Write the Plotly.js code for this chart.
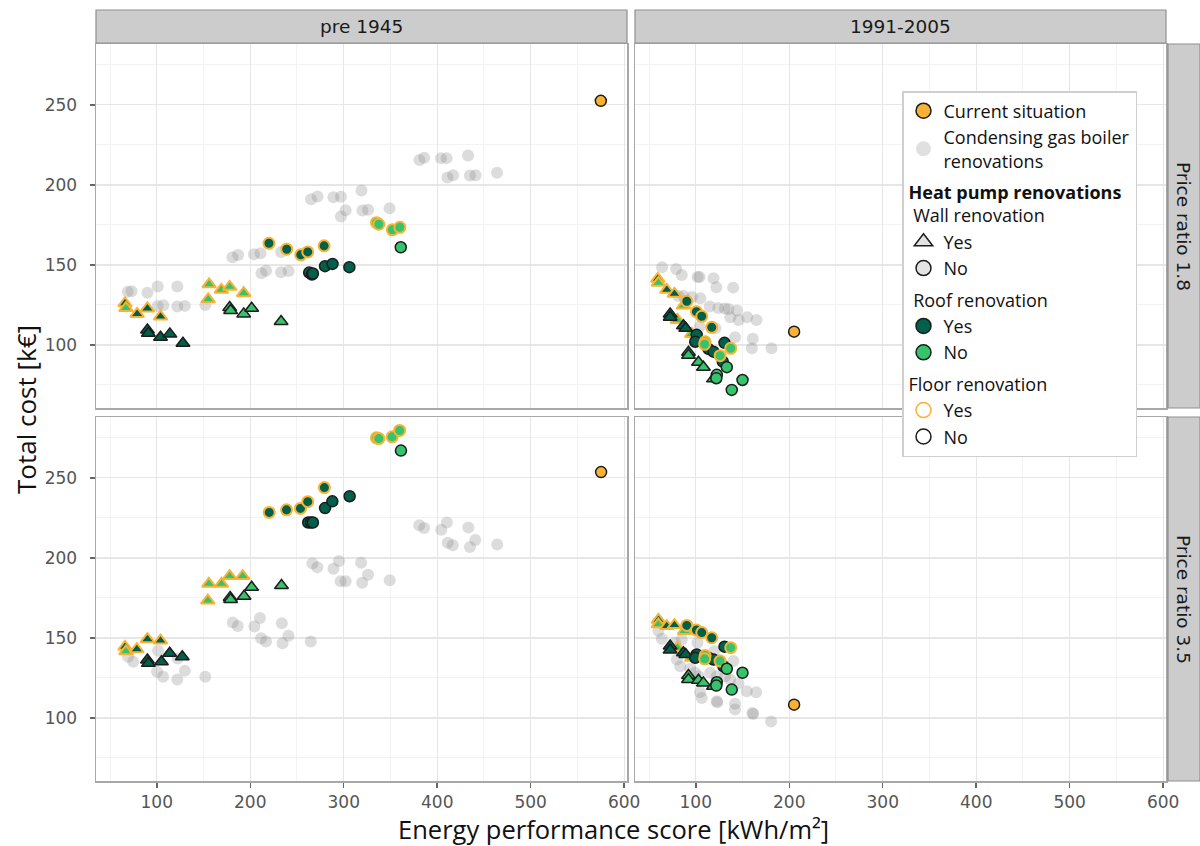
<!DOCTYPE html>
<html><head><meta charset="utf-8">
<script src="https://cdn.plot.ly/plotly-3.0.1.min.js"></script>
<style>html,body{margin:0;padding:0;background:#fff}#chart{width:1200px;height:846px}</style>
</head><body><div id="chart"></div>
<script>
// ---------- labels ----------
const buildingPeriods = ['pre 1945', '1991-2005'];
const priceRatios = ['Price ratio 1.8', 'Price ratio 3.5'];
const xTicks = [100, 200, 300, 400, 500, 600];
const yTicks = [100, 150, 200, 250];
const xTitle = 'Energy performance score [kWh/m²]';
const yTitle = 'Total cost [k€]';

// ---------- pre 1945, price ratio 1.8 ----------
const pre1945_r18_cur = [575, 252.5];
const pre1945_r18_gas_x = [69,73,90,101,101,107,122,122,130,152,181,187,204,211,212,217,233,241,233,265,272,289,297,319,297,302,320,326,349,381,386,404,410,433,411,417,435,441,464];
const pre1945_r18_gas_y = [133.3,133.5,132.6,136.5,124.4,124.8,136.5,124,124.4,125,154.8,156.2,156.7,157.3,144.8,146.4,145.4,146.2,158,191,192.7,192.3,192.6,196.5,180.2,184.2,184,184.4,185.4,215.6,216.9,216.7,216.7,218.3,204.6,206,205.9,206,207.5];
const pre1945_r18_hp_x = [66,67,79,90,104,90,91,104,114,128,156,155,169,178,193,178,179,193,201.5,233,220,239,254,261.5,279,263,266,267,280,288,306,335,337.5,352,360,361];
const pre1945_r18_hp_y = [126,123,119.4,122.8,117.7,109.4,107.3,104.8,106.9,101,137.9,128.5,134.4,136.3,132.3,123.4,121.5,119.4,122.9,114.6,163.5,159.8,156.3,158.1,161.9,145.2,144,144.6,149.2,150.6,148.6,176.4,175.4,171.9,173.5,161];
const pre1945_r18_hp_wall = ['Y','Y','Y','Y','Y','Y','Y','Y','Y','Y','Y','Y','Y','Y','Y','Y','Y','Y','Y','Y','N','N','N','N','N','N','N','N','N','N','N','N','N','N','N','N'];
const pre1945_r18_hp_roof = ['Y','N','Y','Y','Y','Y','Y','Y','Y','Y','N','N','N','N','N','N','N','N','N','N','Y','Y','Y','Y','Y','Y','Y','Y','Y','Y','Y','N','N','N','N','N'];
const pre1945_r18_hp_floor = ['Y','Y','Y','Y','Y','N','N','N','N','N','Y','Y','Y','Y','Y','N','N','N','N','N','Y','Y','Y','Y','Y','N','N','N','N','N','N','Y','Y','Y','Y','N'];

// ---------- 1991-2005, price ratio 1.8 ----------
const p1991_r18_cur = [205.2, 108.3];
const p1991_r18_gas_x = [64,79,85,102,104,119,122,140,81.5,87,96,105,115,124,131,135,144,137,146,155,165,104,121,142,161,160,181];
const p1991_r18_gas_y = [148.5,147.5,143.7,142.5,142.5,141.7,136,135.8,130.5,130.5,130,129.2,124,123,122.8,122.5,121.5,117.3,115.6,117.3,115.6,111.4,110.4,104.8,103.8,97.9,97.9];
const p1991_r18_hp_x = [59.4,60,69,77.2,86.8,80.4,95.7,72.6,72.6,86.8,89.3,92.2,92.2,102.9,108.2,118.9,90.4,100.7,106.4,117.1,101,99.4,113.5,118.9,128.9,130.7,110,109.5,126,137.4,133.2,122.5,122,150,138.5];
const p1991_r18_hp_y = [141.3,138.8,134.4,131.9,124.6,115.6,106.9,119.4,117.3,112,110.4,95.4,93.5,89.2,86.1,78.8,127.3,120.8,117.9,111,106.3,102,97.5,95.8,89.6,101.3,102,100.4,93.3,97.9,86.1,81.3,79.2,78.1,71.9];
const p1991_r18_hp_wall = ['Y','Y','Y','Y','Y','Y','Y','Y','Y','Y','Y','Y','Y','Y','Y','Y','N','N','N','N','N','N','N','N','N','N','N','N','N','N','N','N','N','N','N'];
const p1991_r18_hp_roof = ['Y','N','Y','Y','N','N','N','Y','Y','Y','Y','N','N','N','N','N','Y','Y','Y','Y','Y','Y','Y','Y','Y','Y','N','N','N','N','N','N','N','N','N'];
const p1991_r18_hp_floor = ['Y','Y','Y','Y','Y','Y','Y','N','N','N','N','N','N','N','N','N','Y','Y','Y','Y','N','N','N','N','N','N','Y','Y','Y','Y','N','N','N','N','N'];

// ---------- pre 1945, price ratio 3.5 ----------
const pre1945_r35_cur = [575.3, 253.6];
const pre1945_r35_gas_x = [69.4,74.8,101.4,100.3,106.7,122,130.1,122.4,151.9,181.3,186.6,204.4,210.4,211.5,216.8,233.8,240.9,234.5,264.7,266.5,271.8,289,295,296.7,302,318.6,319.7,326,349.2,380.8,386,404.3,410.3,433.3,411.3,416.6,435,440.7,464.2];
const pre1945_r35_gas_y = [138.2,135.1,142,128.8,125.7,124,129.4,137.2,125.7,159.6,157.5,157.1,162.4,149.8,147.7,159.2,151.3,146.7,147.7,196.5,194.2,193.2,198,185.4,185.4,197,184.4,189.4,186,220.4,218.6,217.5,222.1,219,209.5,207.9,206.8,211.2,208.3];
const pre1945_r35_hp_x = [66,67,78.7,90,104,90,91,105,113.8,127.3,155.7,154.6,169.2,178,191.9,178.5,179,193.4,201.5,233.4,220.3,238.8,253.7,261.5,279.3,262,265,267,280,287.8,306.3,335,337.5,351.8,359.8,361.2];
const pre1945_r35_hp_y = [144.4,141.6,142.9,149.2,148.3,136.2,134.1,135.1,140.4,138.2,183.8,173.3,183.8,188.6,188.6,175.3,174,176,181.6,182.7,228.4,230,230.9,235.1,243.9,222.1,222.1,222.1,231.1,235.3,238.5,275,274.5,275.6,279.6,267];
const pre1945_r35_hp_wall = pre1945_r18_hp_wall.slice();
const pre1945_r35_hp_roof = pre1945_r18_hp_roof.slice();
const pre1945_r35_hp_floor = pre1945_r18_hp_floor.slice();

// ---------- 1991-2005, price ratio 3.5 ----------
const p1991_r35_cur = [205.2, 108.3];
const p1991_r35_gas_x = [60.1,63.7,78,85,79.8,83.4,101.8,94,99.4,103,120,140.3,115.4,122.5,131.4,136.8,145.7,154.6,164.6,104.7,106.4,122.5,123,142,142,160.6,161.5,180.6];
const p1991_r35_gas_y = [154.3,149.5,147,149,136.5,132.3,147,130.7,128.2,126,141.7,135.5,128.2,126,126,124,121.5,116.7,116,116,112.5,110.4,109.8,108.8,105.3,103.1,102.5,97.8];
const p1991_r35_hp_x = [60.1,60,69,77.2,88,80.4,95.7,72.6,72.6,86.8,89.3,92.2,92.2,102.9,108.2,118.9,90.4,100.7,106.4,117.1,130.7,101,99.4,113.5,118.9,129.6,137.4,110,109.5,126,133.2,150,122.5,122,138.5];
const p1991_r35_hp_y = [161.2,158.5,157.4,158,154.3,143.9,137.6,144.9,142.4,140.7,139.7,126.5,124,123.5,121.9,119.8,157.8,154.9,153.3,150.1,144.5,139.7,137.6,137.6,136.5,132.3,143.9,139,136.9,135.5,130.7,128.2,122.3,120.2,117.7];
const p1991_r35_hp_wall = p1991_r18_hp_wall.slice();
const p1991_r35_hp_roof = p1991_r18_hp_roof.slice();
const p1991_r35_hp_floor = p1991_r18_hp_floor.slice();

// ---------- styles ----------
const ORANGE = '#F9B233';
const DARKGREEN = '#00604A';
const LIGHTGREEN = '#35C36C';
const OUTLINE = '#1c1c1c';
const GASCOLOR = 'rgba(140,140,140,0.30)';

const W = 1200, H = 846;
const px = v => v / W;
const py = v => 1 - v / H;
const colX = [[96, 627], [635, 1166]];
const rowY = [[44, 408], [417, 781]];

const panels = [
  {ax: '', col: 0, row: 0, cur: pre1945_r18_cur, gx: pre1945_r18_gas_x, gy: pre1945_r18_gas_y, hx: pre1945_r18_hp_x, hy: pre1945_r18_hp_y, w: pre1945_r18_hp_wall, r: pre1945_r18_hp_roof, f: pre1945_r18_hp_floor},
  {ax: '2', col: 1, row: 0, cur: p1991_r18_cur, gx: p1991_r18_gas_x, gy: p1991_r18_gas_y, hx: p1991_r18_hp_x, hy: p1991_r18_hp_y, w: p1991_r18_hp_wall, r: p1991_r18_hp_roof, f: p1991_r18_hp_floor},
  {ax: '3', col: 0, row: 1, cur: pre1945_r35_cur, gx: pre1945_r35_gas_x, gy: pre1945_r35_gas_y, hx: pre1945_r35_hp_x, hy: pre1945_r35_hp_y, w: pre1945_r35_hp_wall, r: pre1945_r35_hp_roof, f: pre1945_r35_hp_floor},
  {ax: '4', col: 1, row: 1, cur: p1991_r35_cur, gx: p1991_r35_gas_x, gy: p1991_r35_gas_y, hx: p1991_r35_hp_x, hy: p1991_r35_hp_y, w: p1991_r35_hp_wall, r: p1991_r35_hp_roof, f: p1991_r35_hp_floor}
];

const traces = [];
panels.forEach(p => {
  const xa = 'x' + p.ax, ya = 'y' + p.ax;
  traces.push({type: 'scatter', mode: 'markers', x: p.gx, y: p.gy, xaxis: xa, yaxis: ya, showlegend: false, hoverinfo: 'skip',
    marker: {size: 12, opacity: 1, color: GASCOLOR, line: {width: 0}}});
  traces.push({type: 'scatter', mode: 'markers', x: p.hx, y: p.hy, xaxis: xa, yaxis: ya, showlegend: false, hoverinfo: 'skip',
    marker: {
      opacity: 1,
      symbol: p.w.map(v => v === 'Y' ? 'triangle-up' : 'circle'),
      size: p.w.map(v => v === 'Y' ? 12 : 11),
      color: p.r.map(v => v === 'Y' ? DARKGREEN : LIGHTGREEN),
      line: {color: p.f.map(v => v === 'Y' ? ORANGE : OUTLINE), width: p.f.map(v => v === 'Y' ? 2 : 1.5)}
    }});
  traces.push({type: 'scatter', mode: 'markers', x: [p.cur[0]], y: [p.cur[1]], xaxis: xa, yaxis: ya, showlegend: false, hoverinfo: 'skip',
    marker: {size: 11, opacity: 1, color: ORANGE, line: {color: OUTLINE, width: 1.5}}});
});

// legend entries (no data, only legend)
const LEGF = {family: 'Open Sans, sans-serif', size: 18, color: '#111'};
function leg(name, group, marker, title) {
  const t = {type: 'scatter', mode: 'markers', x: [null], y: [null], name: name, legendgroup: group, showlegend: true, marker: marker};
  if (title) t.legendgrouptitle = {text: title, font: LEGF};
  traces.push(t);
}
leg('Current situation', 'a', {size: 15, color: ORANGE, line: {color: OUTLINE, width: 1.5}});
leg('Condensing gas boiler<br>renovations', 'a', {size: 15, color: '#e0e0e0', line: {width: 0}});
leg('Yes', 'wall', {symbol: 'triangle-up', size: 16, color: '#e3e3e3', line: {color: OUTLINE, width: 1.5}}, '<b>Heat pump renovations</b><br> Wall renovation');
leg('No', 'wall', {size: 15, color: '#e3e3e3', line: {color: OUTLINE, width: 1.5}});
leg('Yes', 'roof', {size: 15, color: DARKGREEN, line: {color: OUTLINE, width: 1.5}}, ' Roof renovation');
leg('No', 'roof', {size: 15, color: LIGHTGREEN, line: {color: OUTLINE, width: 1.5}});
leg('Yes', 'floor', {size: 15, color: '#ffffff', line: {color: ORANGE, width: 1.5}}, 'Floor renovation');
leg('No', 'floor', {size: 15, color: '#ffffff', line: {color: OUTLINE, width: 1.5}});

const TICKF = {family: 'DejaVu Sans, sans-serif', size: 17, color: '#555'};
function xAxis(col, row, anchor) {
  const bottom = row === 1;
  return {domain: [px(colX[col][0]), px(colX[col][1])], anchor: anchor, range: [35, 603],
    tickmode: 'array', tickvals: xTicks, showticklabels: bottom, ticks: bottom ? 'outside' : '', ticklen: 5, tickwidth: 1.5, tickcolor: '#666',
    tickfont: TICKF, showgrid: true, gridcolor: '#e6e6e6', gridwidth: 1.3,
    minor: {tick0: 0, dtick: 50, showgrid: true, gridcolor: '#f3f3f3', gridwidth: 1},
    showline: true, linecolor: '#a8a8a8', linewidth: 1.5, mirror: true, zeroline: false};
}
function yAxis(col, row, anchor) {
  const left = col === 0;
  return {domain: [py(rowY[row][1]), py(rowY[row][0])], anchor: anchor, range: [60.6, 288],
    tickmode: 'array', tickvals: yTicks, showticklabels: left, ticks: left ? 'outside' : '', ticklen: 5, tickwidth: 1.5, tickcolor: '#666',
    ticklabelstandoff: 9,
    tickfont: TICKF, showgrid: true, gridcolor: '#e6e6e6', gridwidth: 1.3,
    minor: {tick0: 0, dtick: 25, showgrid: true, gridcolor: '#f3f3f3', gridwidth: 1},
    showline: true, linecolor: '#a8a8a8', linewidth: 1.5, mirror: true, zeroline: false};
}

const shapes = [];
const annotations = [];
const STRIPF = {family: 'DejaVu Sans, sans-serif', size: 18.5, color: '#1a1a1a'};
buildingPeriods.forEach((bp, i) => {
  shapes.push({type: 'rect', xref: 'paper', yref: 'paper', x0: px(colX[i][0]), x1: px(colX[i][1]), y0: py(43), y1: py(10),
    fillcolor: '#cccccc', line: {color: '#8f8f8f', width: 1.2}, layer: 'above'});
  annotations.push({xref: 'paper', yref: 'paper', x: px((colX[i][0] + colX[i][1]) / 2), y: py(26.5), text: bp, showarrow: false, font: STRIPF, xanchor: 'center', yanchor: 'middle'});
});
priceRatios.forEach((pr, j) => {
  shapes.push({type: 'rect', xref: 'paper', yref: 'paper', x0: px(1168), x1: px(1200), y0: py(rowY[j][1]), y1: py(rowY[j][0]),
    fillcolor: '#cccccc', line: {color: '#8f8f8f', width: 1.2}, layer: 'above'});
  annotations.push({xref: 'paper', yref: 'paper', x: px(1184), y: py((rowY[j][0] + rowY[j][1]) / 2), text: pr, showarrow: false, font: STRIPF, textangle: 90, xanchor: 'center', yanchor: 'middle'});
});
annotations.push({xref: 'paper', yref: 'paper', x: px(613), y: py(829), text: xTitle, showarrow: false,
  font: {family: 'Open Sans, sans-serif', size: 25.5, color: '#111'}, xanchor: 'center', yanchor: 'middle'});
annotations.push({xref: 'paper', yref: 'paper', x: px(26), y: py(410), text: yTitle, showarrow: false, textangle: -90,
  font: {family: 'Open Sans, sans-serif', size: 26, color: '#111'}, xanchor: 'center', yanchor: 'middle'});

const layout = {
  width: W, height: H, margin: {l: 0, r: 0, t: 0, b: 0}, paper_bgcolor: '#fff', plot_bgcolor: '#fff',
  showlegend: true,
  legend: {x: px(902), y: py(91), xanchor: 'left', yanchor: 'top', bgcolor: '#fff', bordercolor: '#cfcfcf', borderwidth: 1.5,
    font: LEGF, traceorder: 'grouped', tracegroupgap: 5, itemsizing: 'trace'},
  xaxis: xAxis(0, 0, 'y'), yaxis: yAxis(0, 0, 'x'),
  xaxis2: xAxis(1, 0, 'y2'), yaxis2: yAxis(1, 0, 'x2'),
  xaxis3: xAxis(0, 1, 'y3'), yaxis3: yAxis(0, 1, 'x3'),
  xaxis4: xAxis(1, 1, 'y4'), yaxis4: yAxis(1, 1, 'x4'),
  shapes: shapes, annotations: annotations
};
Plotly.newPlot('chart', traces, layout, {displayModeBar: false, staticPlot: true});
</script></body></html>
